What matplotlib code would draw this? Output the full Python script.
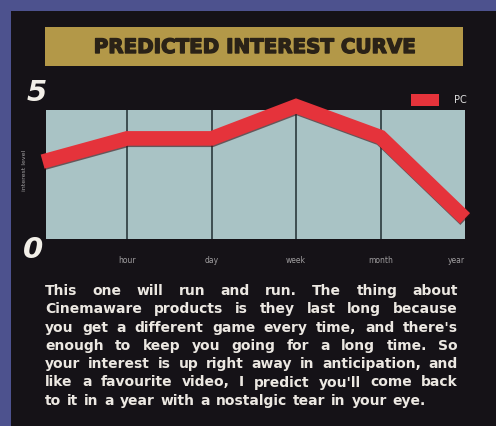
import matplotlib
matplotlib.use("Agg")
import matplotlib.pyplot as plt
import matplotlib.patheffects as pe
from matplotlib.patches import Rectangle, Patch

W, H = 496, 426          # figure size in pixels (dpi 100)

# Chart data
curve_x = [0, 1, 2, 3, 4, 5]
curve_pc = [3.0, 3.9, 3.9, 5.15, 3.95, 0.8]
period_x = [1, 2, 3, 4, 5]
periods = ["hour", "day", "week", "month", "year"]
grid_x = [1, 2, 3, 4]
y_marks = [5, 0]
series_name = "PC"
title = "PREDICTED INTEREST CURVE"
blurb = [
    "This one will run and run. The thing about",
    "Cinemaware products is they last long because",
    "you get a different game every time, and there's",
    "enough to keep you going for a long time. So",
    "your interest is up right away in anticipation, and",
    "like a favourite video, I predict you'll come back",
    "to it in a year with a nostalgic tear in your eye.",
]

# Colours
page_blue = "#4d528e"
panel = "#151217"
gold = "#b39848"
title_ink = "#2a2217"
plot_bg = "#a9c3c5"
grid_col = "#2b3a3d"
red = "#e5333b"
small_grey = "#a09ea0"
ink = "#ece8e2"


def fx(x):
    return x / W


def fy(y):
    return 1 - y / H


fig = plt.figure(figsize=(W / 100, H / 100), dpi=100, facecolor=page_blue)

# black magazine panel and gold title strip
fig.patches.append(Rectangle((fx(11), 0), 1, fy(11), transform=fig.transFigure,
                             facecolor=panel, edgecolor="none", zorder=-10))
fig.patches.append(Rectangle((fx(45), fy(66)), fx(463 - 45), 39 / H,
                             transform=fig.transFigure, facecolor=gold,
                             edgecolor="none", zorder=-9))
fig.text(fx(255.5), fy(47.5), title, ha="center", va="center", fontsize=14.3,
         fontweight="bold", color=title_ink, family="DejaVu Sans",
         path_effects=[pe.withStroke(linewidth=1.0, foreground=title_ink)])

# plot area
left, right, top, bottom = 46, 465, 110, 239
ax = fig.add_axes([fx(left), fy(bottom), fx(right - left), (bottom - top) / H])
ax.set_facecolor(plot_bg)
ax.set_xlim(0.04, 4.97)
ax.set_ylim(0, 5)
for s in ax.spines.values():
    s.set_visible(False)
for gx in grid_x:
    ax.axvline(gx, color=grid_col, lw=1.2, zorder=1)

ax.plot(curve_x, curve_pc, color=red, lw=10.5, solid_joinstyle="miter",
        solid_capstyle="butt", clip_on=False, zorder=3,
        path_effects=[pe.SimpleLineShadow(offset=(0.3, -1.0), shadow_color="#3a1014",
                                          alpha=0.6), pe.Normal()])

ax.set_xticks(period_x, periods)
ax.tick_params(axis="x", length=0, pad=12, labelsize=5.5, labelcolor=small_grey)
ax.get_xticklabels()[-1].set_ha("right")
ax.set_yticks([])

# big italic scale numbers at the top and bottom of the axis
offsets = {5: (-9, 17), 0: (-13, -11)}
for v in y_marks:
    ax.annotate(str(v), xy=(ax.get_xlim()[0], v), xytext=offsets[v],
                textcoords="offset pixels", ha="center", va="center",
                fontsize=21, fontweight="bold", fontstyle="italic",
                color="#f2efe8", annotation_clip=False)

ax.set_ylabel("interest level", fontsize=4.5, color=small_grey)
ax.yaxis.set_label_coords(-19 / (right - left), 0.535)

ax.legend(handles=[Patch(facecolor=red, edgecolor="none")], labels=[series_name],
          loc="center right", bbox_to_anchor=(fx(467), fy(100)),
          bbox_transform=fig.transFigure, frameon=False, fontsize=7,
          labelcolor="#e0e0e0", handlelength=2.9, handleheight=1.45,
          handletextpad=1.6, borderpad=0, borderaxespad=0)

# justified paragraph below the chart
style = dict(fontsize=10, fontweight="bold", color=ink, family="DejaVu Sans",
             va="baseline", ha="left")
fig.canvas.draw()
rend = fig.canvas.get_renderer()
probe_a = fig.text(0, 0, "x x", **style)
probe_b = fig.text(0, 0, "xx", **style)
space = probe_a.get_window_extent(rend).width - probe_b.get_window_extent(rend).width
probe_a.remove()
probe_b.remove()

text_left, text_right = 45, 458
for i, line in enumerate(blurb):
    words = line.split()
    yb = fy(295 + 18.3 * i)
    pieces = [fig.text(0, yb, w, **style) for w in words]
    widths = [p.get_window_extent(rend).width for p in pieces]
    if i < len(blurb) - 1:
        gap = (text_right - text_left - sum(widths)) / (len(words) - 1)
    else:
        gap = space * 1.2
    x = text_left
    for p, w in zip(pieces, widths):
        p.set_x(fx(x))
        x += w + gap

fig.savefig("out.png", dpi=100, facecolor=page_blue)
